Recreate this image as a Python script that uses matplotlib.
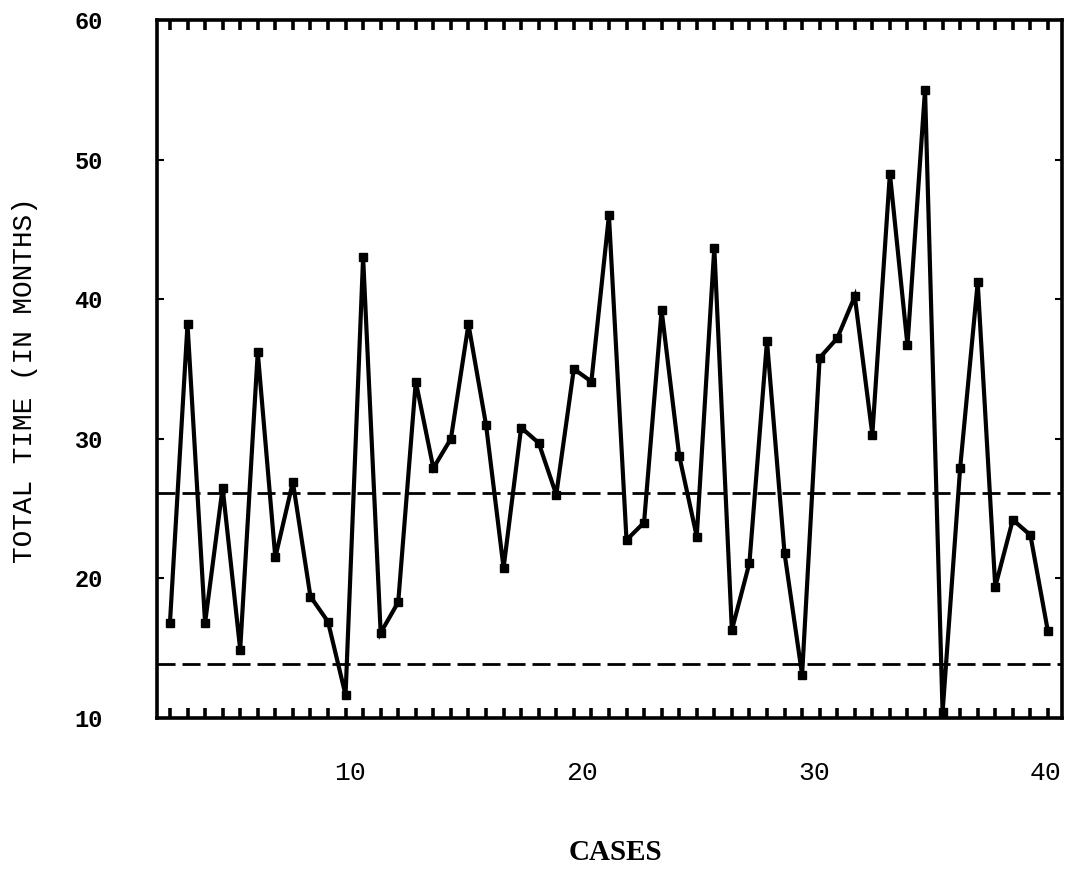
import numpy as np
import matplotlib.pyplot as plt
from matplotlib.ticker import MultipleLocator

# total time per case (months)
cases = np.arange(1, 52)
total_time = [16.8, 38.2, 16.8, 26.5, 14.9, 36.2, 21.5, 26.9, 18.7, 16.9,
              11.65, 43.0, 16.1, 18.3, 34.1, 27.9, 30.0, 38.2, 31.0, 20.75,
              30.8, 29.7, 26.0, 35.0, 34.1, 46.0, 22.75, 24.0, 39.2, 28.8,
              23.0, 43.7, 16.3, 21.1, 37.0, 21.8, 13.1, 35.8, 37.2, 40.2,
              30.3, 49.0, 36.7, 55.0, 10.4, 27.9, 41.2, 19.4, 24.2, 23.1,
              16.2]
limits = [26.1, 13.9]  # dashed reference lines

xtick_pos = [11.25, 24.45, 37.7, 50.85]
xtick_labels = ['10', '20', '30', '40']
yticks = [10, 20, 30, 40, 50, 60]

fig = plt.figure(figsize=(10.67, 8.84), dpi=100)
ax = fig.add_axes([0.1471, 0.1878, 0.9953 - 0.1471, 0.9774 - 0.1878])

ax.plot(cases, total_time, color='black', lw=3.0, marker='s', ms=6,
        solid_joinstyle='miter')
for y in limits:
    ax.axhline(y, color='black', lw=2.0, linestyle=(0, (6.5, 2.5)))

ax.set_xlim(0.26, 51.8)
ax.set_ylim(10, 60)

for s in ax.spines.values():
    s.set_linewidth(2.6)

ax.set_xticks(xtick_pos)
ax.set_xticklabels(xtick_labels, family='Liberation Mono', fontsize=19)
ax.xaxis.set_minor_locator(MultipleLocator(1))
ax.tick_params(axis='x', which='major', length=0, pad=31)
ax.tick_params(axis='x', which='minor', direction='in', length=7, width=2.6,
               top=True, bottom=True)

ax.set_yticks(yticks)
ax.set_yticklabels([str(v) for v in yticks], family='Liberation Mono',
                   fontweight='bold', fontsize=17)
ax.tick_params(axis='y', which='major', direction='in', length=5, width=1.5,
               left=True, right=True, pad=39)

fig.text(25 / 1067, 1 - 380 / 884, 'TOTAL TIME (IN MONTHS)', rotation=90,
         ha='center', va='center', family='Liberation Mono', fontsize=20)
fig.text(615 / 1067, 1 - 852 / 884, 'CASES', ha='center', va='center',
         family='Liberation Serif', fontweight='bold', fontsize=21)

fig.savefig('out.png', dpi=100)
